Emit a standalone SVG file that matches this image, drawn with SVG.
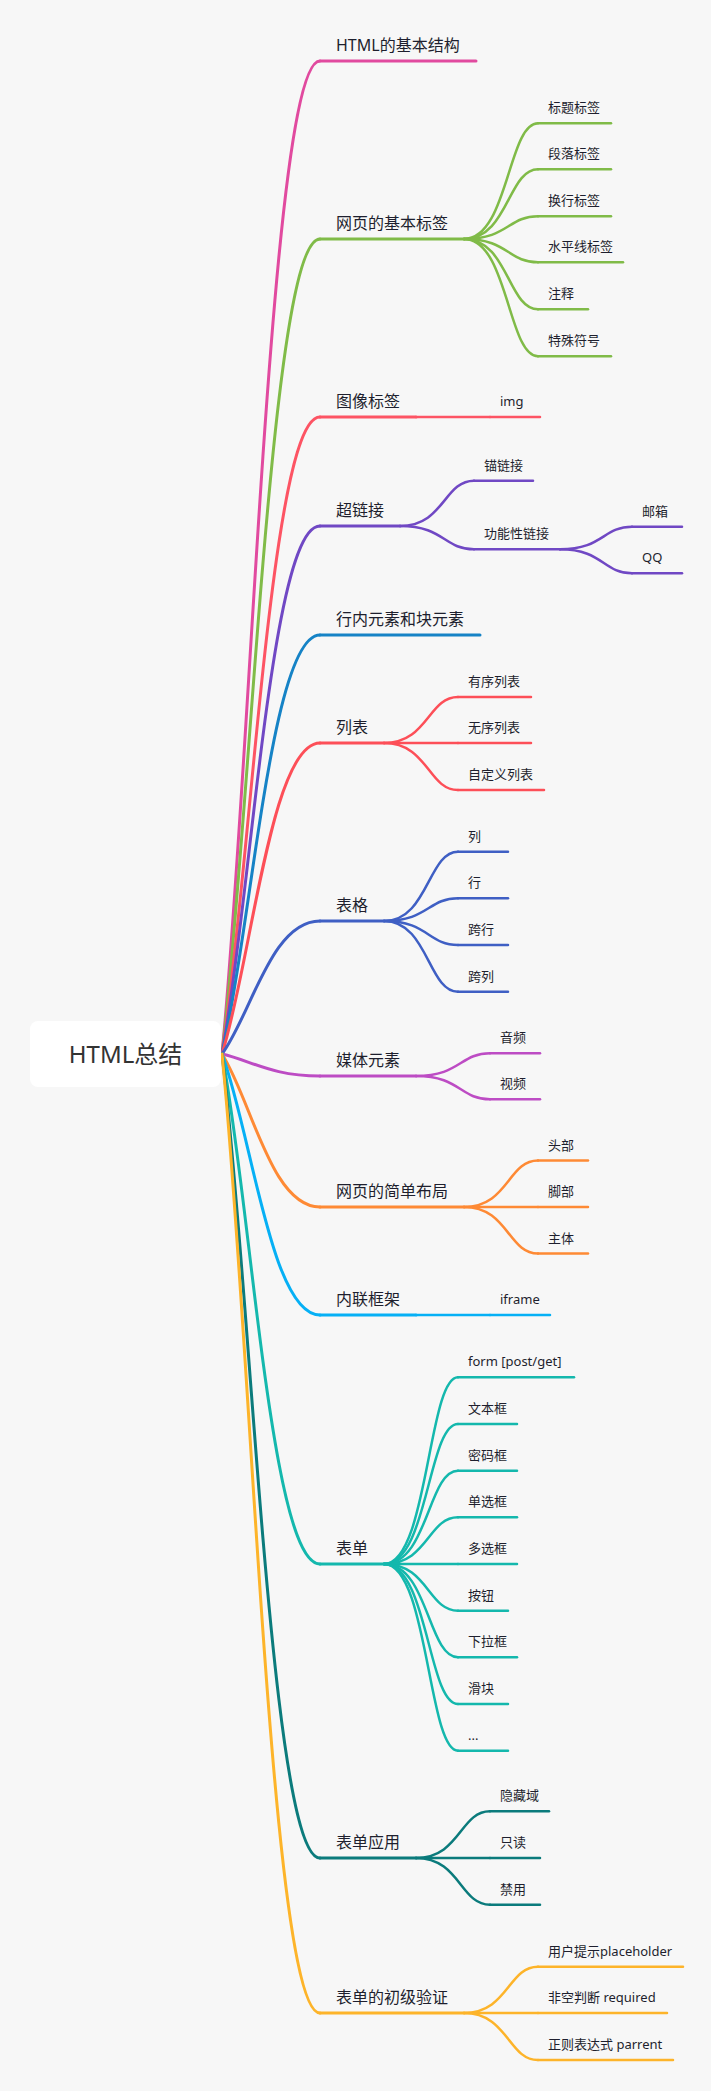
<svg xmlns="http://www.w3.org/2000/svg" width="711" height="2091" viewBox="0 0 711 2091">
<style>
text{font-family:"Noto Sans","Noto Sans CJK SC",sans-serif;fill:#1e1f2e}
.t1{font-size:16px}
.t2{font-size:13px}
.root{font-size:24px;fill:#333}
path,line{fill:none;stroke-linecap:round}
.w1{stroke-width:3}
.w2{stroke-width:2.5}
.c1{stroke:#e14a9f}.c2{stroke:#80bb48}.c3{stroke:#fd5464}.c4{stroke:#7048c4}.c5{stroke:#1683c6}.c6{stroke:#fd4f58}.c7{stroke:#3f5fc4}.c8{stroke:#bd4cc4}.c9{stroke:#fe8a35}.c10{stroke:#06b0f5}.c11{stroke:#14b8ad}.c12{stroke:#0b7b7c}.c13{stroke:#fdb42a}
</style>
<rect width="711" height="2091" fill="#f7f7f7"/>
<g id="connectors">
<g class="w1">
<path class="c1" d="M222 1054C251.4 756.1 271 61 320 61"/>
<path class="c2" d="M222 1054C251.4 809.5 271 239 320 239"/>
<path class="c3" d="M222 1054C251.4 862.9 271 417 320 417"/>
<path class="c4" d="M222 1054C251.4 895.6 271 526 320 526"/>
<path class="c5" d="M222 1054C251.4 928.3 271 635 320 635"/>
<path class="c6" d="M222 1054C251.4 960.7 271 743 320 743"/>
<path class="c7" d="M222 1054C251.4 1014.1 271 921 320 921"/>
<path class="c8" d="M222 1054C251.4 1060.6 271 1076 320 1076"/>
<path class="c9" d="M222 1054C251.4 1099.9 271 1207 320 1207"/>
<path class="c10" d="M222 1054C251.4 1132.3 271 1315 320 1315"/>
<path class="c11" d="M222 1054C251.4 1207 271 1564 320 1564"/>
<path class="c12" d="M222 1054C251.4 1295.2 271 1858 320 1858"/>
<path class="c13" d="M222 1054C251.4 1341.7 271 2013 320 2013"/>
</g>
<g class="w2">
<g class="c2">
<path d="M464 239C508 239 508 123.3 538 123.3"/>
<path d="M464 239C508 239 508 169.3 538 169.3"/>
<path d="M464 239C508 239 508 216.3 538 216.3"/>
<path d="M464 239C508 239 508 262.3 538 262.3"/>
<path d="M464 239C508 239 508 309.3 538 309.3"/>
<path d="M464 239C508 239 508 356.3 538 356.3"/>
</g>
<path class="c3" d="M416 417H490"/>
<g class="c4">
<path d="M400 526C444 526 444 480.7 474 480.7"/>
<path d="M400 526C444 526 444 549.3 474 549.3"/>
<path d="M560 549.3C603 549.3 603 526.7 632 526.7"/>
<path d="M560 549.3C603 549.3 603 573.3 632 573.3"/>
</g>
<g class="c6">
<path d="M384 743C428 743 428 697 458 697"/>
<path d="M384 743H458"/>
<path d="M384 743C428 743 428 790 458 790"/>
</g>
<g class="c7">
<path d="M384 921C428 921 428 851.7 458 851.7"/>
<path d="M384 921C428 921 428 898.3 458 898.3"/>
<path d="M384 921C428 921 428 945 458 945"/>
<path d="M384 921C428 921 428 991.7 458 991.7"/>
</g>
<g class="c8">
<path d="M416 1076C460 1076 460 1053.3 490 1053.3"/>
<path d="M416 1076C460 1076 460 1099.3 490 1099.3"/>
</g>
<g class="c9">
<path d="M464 1207C508 1207 508 1160.5 538 1160.5"/>
<path d="M464 1207H538"/>
<path d="M464 1207C508 1207 508 1253.6 538 1253.6"/>
</g>
<path class="c10" d="M416 1315H490"/>
<g class="c11">
<path d="M384 1564C428 1564 428 1377.3 458 1377.3"/>
<path d="M384 1564C428 1564 428 1424 458 1424"/>
<path d="M384 1564C428 1564 428 1470.7 458 1470.7"/>
<path d="M384 1564C428 1564 428 1517.3 458 1517.3"/>
<path d="M384 1564H458"/>
<path d="M384 1564C428 1564 428 1610.7 458 1610.7"/>
<path d="M384 1564C428 1564 428 1657.3 458 1657.3"/>
<path d="M384 1564C428 1564 428 1704 458 1704"/>
<path d="M384 1564C428 1564 428 1750.7 458 1750.7"/>
</g>
<g class="c12">
<path d="M416 1858C460 1858 460 1811.3 490 1811.3"/>
<path d="M416 1858H490"/>
<path d="M416 1858C460 1858 460 1904.7 490 1904.7"/>
</g>
<g class="c13">
<path d="M464 2013C508 2013 508 1966.7 538 1966.7"/>
<path d="M464 2013H538"/>
<path d="M464 2013C508 2013 508 2060 538 2060"/>
</g>
</g>
</g>
<g id="n-root"><rect x="30" y="1021" width="191" height="66" rx="8" fill="#fff"/><text class="root" x="125.5" y="1063" text-anchor="middle">HTML总结</text></g>
<g id="n-structure"><line class="c1 w1" x1="320" y1="61" x2="476" y2="61"/><text class="t1" x="336" y="50.5">HTML的基本结构</text></g>
<g id="n-basic-tags"><line class="c2 w1" x1="320" y1="239" x2="464" y2="239"/><text class="t1" x="336" y="228.5">网页的基本标签</text></g>
<g id="n-h"><line class="c2 w2" x1="538" y1="123.3" x2="611" y2="123.3"/><text class="t2" x="548" y="112.3">标题标签</text></g>
<g id="n-p"><line class="c2 w2" x1="538" y1="169.3" x2="611" y2="169.3"/><text class="t2" x="548" y="158.3">段落标签</text></g>
<g id="n-br"><line class="c2 w2" x1="538" y1="216.3" x2="611" y2="216.3"/><text class="t2" x="548" y="205.3">换行标签</text></g>
<g id="n-hr"><line class="c2 w2" x1="538" y1="262.3" x2="623" y2="262.3"/><text class="t2" x="548" y="251.3">水平线标签</text></g>
<g id="n-comment"><line class="c2 w2" x1="538" y1="309.3" x2="588" y2="309.3"/><text class="t2" x="548" y="298.3">注释</text></g>
<g id="n-special"><line class="c2 w2" x1="538" y1="356.3" x2="611" y2="356.3"/><text class="t2" x="548" y="345.3">特殊符号</text></g>
<g id="n-image"><line class="c3 w1" x1="320" y1="417" x2="416" y2="417"/><text class="t1" x="336" y="406.5">图像标签</text></g>
<g id="n-img"><line class="c3 w2" x1="490" y1="417" x2="540" y2="417"/><text class="t2" x="500" y="406">img</text></g>
<g id="n-link"><line class="c4 w1" x1="320" y1="526" x2="400" y2="526"/><text class="t1" x="336" y="515.5">超链接</text></g>
<g id="n-anchor"><line class="c4 w2" x1="474" y1="480.7" x2="533" y2="480.7"/><text class="t2" x="484" y="469.7">锚链接</text></g>
<g id="n-func"><line class="c4 w2" x1="474" y1="549.3" x2="560" y2="549.3"/><text class="t2" x="484" y="538.3">功能性链接</text></g>
<g id="n-mail"><line class="c4 w2" x1="632" y1="526.7" x2="682" y2="526.7"/><text class="t2" x="642" y="515.7">邮箱</text></g>
<g id="n-qq"><line class="c4 w2" x1="632" y1="573.3" x2="682" y2="573.3"/><text class="t2" x="642" y="562.3">QQ</text></g>
<g id="n-inline"><line class="c5 w1" x1="320" y1="635" x2="480" y2="635"/><text class="t1" x="336" y="624.5">行内元素和块元素</text></g>
<g id="n-list"><line class="c6 w1" x1="320" y1="743" x2="384" y2="743"/><text class="t1" x="336" y="732.5">列表</text></g>
<g id="n-ol"><line class="c6 w2" x1="458" y1="697" x2="531" y2="697"/><text class="t2" x="468" y="686">有序列表</text></g>
<g id="n-ul"><line class="c6 w2" x1="458" y1="743" x2="531" y2="743"/><text class="t2" x="468" y="732">无序列表</text></g>
<g id="n-dl"><line class="c6 w2" x1="458" y1="790" x2="544" y2="790"/><text class="t2" x="468" y="779">自定义列表</text></g>
<g id="n-table"><line class="c7 w1" x1="320" y1="921" x2="384" y2="921"/><text class="t1" x="336" y="910.5">表格</text></g>
<g id="n-col"><line class="c7 w2" x1="458" y1="851.7" x2="508" y2="851.7"/><text class="t2" x="468" y="840.7">列</text></g>
<g id="n-row"><line class="c7 w2" x1="458" y1="898.3" x2="508" y2="898.3"/><text class="t2" x="468" y="887.3">行</text></g>
<g id="n-rowspan"><line class="c7 w2" x1="458" y1="945" x2="508" y2="945"/><text class="t2" x="468" y="934">跨行</text></g>
<g id="n-colspan"><line class="c7 w2" x1="458" y1="991.7" x2="508" y2="991.7"/><text class="t2" x="468" y="980.7">跨列</text></g>
<g id="n-media"><line class="c8 w1" x1="320" y1="1076" x2="416" y2="1076"/><text class="t1" x="336" y="1065.5">媒体元素</text></g>
<g id="n-audio"><line class="c8 w2" x1="490" y1="1053.3" x2="540" y2="1053.3"/><text class="t2" x="500" y="1042.3">音频</text></g>
<g id="n-video"><line class="c8 w2" x1="490" y1="1099.3" x2="540" y2="1099.3"/><text class="t2" x="500" y="1088.3">视频</text></g>
<g id="n-layout"><line class="c9 w1" x1="320" y1="1207" x2="464" y2="1207"/><text class="t1" x="336" y="1196.5">网页的简单布局</text></g>
<g id="n-header"><line class="c9 w2" x1="538" y1="1160.5" x2="588" y2="1160.5"/><text class="t2" x="548" y="1149.5">头部</text></g>
<g id="n-footer"><line class="c9 w2" x1="538" y1="1207" x2="588" y2="1207"/><text class="t2" x="548" y="1196">脚部</text></g>
<g id="n-main"><line class="c9 w2" x1="538" y1="1253.6" x2="588" y2="1253.6"/><text class="t2" x="548" y="1242.6">主体</text></g>
<g id="n-frame"><line class="c10 w1" x1="320" y1="1315" x2="416" y2="1315"/><text class="t1" x="336" y="1304.5">内联框架</text></g>
<g id="n-iframe"><line class="c10 w2" x1="490" y1="1315" x2="550" y2="1315"/><text class="t2" x="500" y="1304">iframe</text></g>
<g id="n-form"><line class="c11 w1" x1="320" y1="1564" x2="384" y2="1564"/><text class="t1" x="336" y="1553.5">表单</text></g>
<g id="n-formtag"><line class="c11 w2" x1="458" y1="1377.3" x2="574" y2="1377.3"/><text class="t2" x="468" y="1366.3">form [post/get]</text></g>
<g id="n-text"><line class="c11 w2" x1="458" y1="1424" x2="517" y2="1424"/><text class="t2" x="468" y="1413">文本框</text></g>
<g id="n-pass"><line class="c11 w2" x1="458" y1="1470.7" x2="517" y2="1470.7"/><text class="t2" x="468" y="1459.7">密码框</text></g>
<g id="n-radio"><line class="c11 w2" x1="458" y1="1517.3" x2="517" y2="1517.3"/><text class="t2" x="468" y="1506.3">单选框</text></g>
<g id="n-check"><line class="c11 w2" x1="458" y1="1564" x2="517" y2="1564"/><text class="t2" x="468" y="1553">多选框</text></g>
<g id="n-button"><line class="c11 w2" x1="458" y1="1610.7" x2="508" y2="1610.7"/><text class="t2" x="468" y="1599.7">按钮</text></g>
<g id="n-select"><line class="c11 w2" x1="458" y1="1657.3" x2="517" y2="1657.3"/><text class="t2" x="468" y="1646.3">下拉框</text></g>
<g id="n-range"><line class="c11 w2" x1="458" y1="1704" x2="508" y2="1704"/><text class="t2" x="468" y="1693">滑块</text></g>
<g id="n-more"><line class="c11 w2" x1="458" y1="1750.7" x2="508" y2="1750.7"/><text class="t2" x="468" y="1739.7">...</text></g>
<g id="n-formapp"><line class="c12 w1" x1="320" y1="1858" x2="416" y2="1858"/><text class="t1" x="336" y="1847.5">表单应用</text></g>
<g id="n-hidden"><line class="c12 w2" x1="490" y1="1811.3" x2="549" y2="1811.3"/><text class="t2" x="500" y="1800.3">隐藏域</text></g>
<g id="n-readonly"><line class="c12 w2" x1="490" y1="1858" x2="540" y2="1858"/><text class="t2" x="500" y="1847">只读</text></g>
<g id="n-disabled"><line class="c12 w2" x1="490" y1="1904.7" x2="540" y2="1904.7"/><text class="t2" x="500" y="1893.7">禁用</text></g>
<g id="n-validate"><line class="c13 w1" x1="320" y1="2013" x2="464" y2="2013"/><text class="t1" x="336" y="2002.5">表单的初级验证</text></g>
<g id="n-placeholder"><line class="c13 w2" x1="538" y1="1966.7" x2="683" y2="1966.7"/><text class="t2" x="548" y="1955.7">用户提示placeholder</text></g>
<g id="n-required"><line class="c13 w2" x1="538" y1="2013" x2="667" y2="2013"/><text class="t2" x="548" y="2002">非空判断 required</text></g>
<g id="n-pattern"><line class="c13 w2" x1="538" y1="2060" x2="673" y2="2060"/><text class="t2" x="548" y="2049">正则表达式 parrent</text></g>
</svg>
